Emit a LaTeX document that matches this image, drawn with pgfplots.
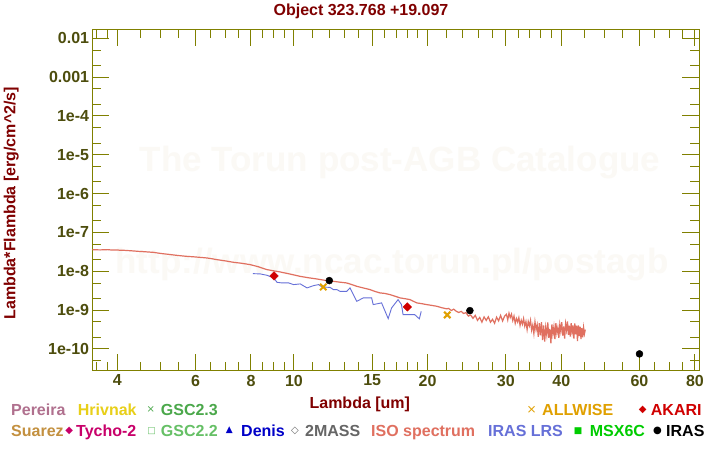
\documentclass[border=0pt]{standalone}
\usepackage{fontspec}
\setmainfont{Liberation Sans}
\newfontfamily\symfont{DejaVu Sans}
\usepackage{pgfplots}
\pgfplotsset{compat=1.18}
\definecolor{titlered}{HTML}{800000}
\definecolor{axisol}{HTML}{808000}
\definecolor{ticklab}{HTML}{4D4D0D}
\definecolor{wm}{RGB}{251,249,245}
\definecolor{pereira}{HTML}{B0708E}
\definecolor{hrivnak}{HTML}{E8CF18}
\definecolor{gscthree}{HTML}{4BA84B}
\definecolor{suarez}{HTML}{C3903F}
\definecolor{tycho}{HTML}{C8006A}
\definecolor{gsctwo}{HTML}{66C066}
\definecolor{denis}{HTML}{0000C8}
\definecolor{twomass}{HTML}{666666}
\definecolor{iso}{HTML}{E07060}
\definecolor{iraslrs}{HTML}{6670D8}
\definecolor{msx}{HTML}{00CC00}
\definecolor{allwise}{HTML}{E0A000}
\definecolor{akari}{HTML}{D00000}
\newcommand{\ft}{\fontsize{16}{19}\selectfont\bfseries}
\tikzset{sym/.style={inner sep=0, font=\symfont\fontsize{#1}{#1}\selectfont}}
\begin{document}
\begin{tikzpicture}
\path[use as bounding box] (0,0) rectangle (720pt,450pt);
\fill[white] (0,0) rectangle (720pt,450pt);
% watermark
\node[text=wm, font=\fontsize{35}{40}\selectfont\bfseries, inner sep=0] at (400pt,287pt) {The Torun post-AGB Catalogue};
\node[text=wm, font=\fontsize{35}{40}\selectfont\bfseries, inner sep=0] at (392pt,185pt) {http://www.ncac.torun.pl/postagb};
\begin{axis}[
  at={(92.3pt,79.3pt)}, anchor=south west,
  scale only axis, width=606.7pt, height=341.4pt,
  xmode=log, ymode=log,
  xmin=3.514, xmax=81.7, ymin=2.76e-11, ymax=1.706e-2,
  xtick={4,6,8,10,15,20,30,40,60,80},
  xticklabels={4,6,8,10,15,20,30,40,60,80},
  minor xtick={3.6,3.8,4.5,5,5.5,6.5,7,7.5,8.5,9,9.5,11,12,13,14,16,17,18,19,22,24,26,28,32,34,36,38,45,50,55,65,70,75},
  ytick={1e-10,1e-9,1e-8,1e-7,1e-6,1e-5,1e-4,1e-3,1e-2},
  yticklabels={1e-10,1e-9,1e-8,1e-7,1e-6,1e-5,1e-4,0.001,0.01},
  minor ytick={5e-11,2e-10,5e-10,2e-9,5e-9,2e-8,5e-8,2e-7,5e-7,2e-6,5e-6,2e-5,5e-5,2e-4,5e-4,2e-3,5e-3},
  tick align=inside,
  major tick length=17pt, minor tick length=9pt,
  tick style={axisol, line width=1pt},
  axis line style={draw=axisol, line width=1pt},
  ticklabel style={font=\ft, text=ticklab},
  yticklabel style={inner sep=0pt, xshift=-3pt},
  xticklabel style={inner sep=0pt, yshift=-4pt},
]
% ISO spectrum
\addplot[iso, line width=1.2pt, no markers] coordinates {
(3.51,3.62e-8) (3.60,3.58e-8) (3.66,3.56e-8) (3.80,3.62e-8) (3.90,3.52e-8) (4.00,3.55e-8)
(4.06,3.48e-8) (4.10,3.50e-8) (4.30,3.38e-8) (4.46,3.27e-8) (4.60,3.20e-8) (4.82,3.08e-8)
(5.04,2.86e-8) (5.20,2.75e-8) (5.44,2.58e-8) (5.73,2.43e-8) (5.95,2.36e-8) (6.14,2.29e-8)
(6.36,2.21e-8) (6.50,2.13e-8) (6.70,2.00e-8) (7.00,1.86e-8) (7.30,1.71e-8) (7.60,1.62e-8)
(7.96,1.49e-8) (8.30,1.32e-8) (8.68,1.11e-8) (9.00,1.03e-8) (9.30,9.66e-9) (9.80,8.50e-9)
(10.32,7.43e-9) (10.80,6.80e-9) (11.25,6.37e-9) (11.70,5.90e-9) (12.26,5.53e-9) (12.70,5.25e-9)
(13.14,5.02e-9) (13.50,4.55e-9) (13.85,4.11e-9) (14.30,3.75e-9) (14.84,3.38e-9) (15.20,3.05e-9)
(15.62,2.78e-9) (16.00,2.70e-9) (16.46,2.51e-9) (16.90,2.28e-9) (17.33,2.07e-9) (17.80,1.97e-9)
(18.25,1.87e-9) (18.60,1.68e-9) (18.90,1.54e-9) (19.40,1.47e-9) (19.90,1.39e-9) (20.40,1.33e-9)
(20.97,1.26e-9) (21.50,1.16e-9) (22.08,1.08e-9)
(22.3,1.11e-9) (22.6,9.8e-10) (22.9,1.06e-9) (23.2,9.35e-10) (23.5,8.7e-10) (23.8,9.3e-10)
(24.1,8.2e-10) (24.4,8.65e-10) (24.7,7.05e-10) (25.0,7.5e-10) (25.3,6.15e-10) (25.6,7.35e-10)
(25.9,5.45e-10) (26.2,6.5e-10) (26.5,4.9e-10) (26.8,6.7e-10) (27.1,5.45e-10) (27.4,6.75e-10)
(27.7,4.9e-10) (28.0,5.8e-10) (28.3,4.6e-10) (28.6,6.6e-10) (28.9,5.3e-10) (29.2,7.35e-10)
(29.5,5.25e-10) (29.8,6.95e-10)
(30.1,7.8e-10) (30.3,5.6e-10) (30.5,8.35e-10) (30.7,6.45e-10) (30.9,7.9e-10) (31.1,5.4e-10)
(31.3,7.05e-10) (31.5,4.6e-10) (31.7,6.1e-10) (31.9,4.95e-10) (32.1,6.4e-10) (32.3,4.05e-10)
(32.5,5.5e-10) (32.7,4.35e-10) (32.9,6.05e-10) (33.1,3.9e-10) (33.3,5.1e-10) (33.5,3.15e-10)
(33.7,5.1e-10) (33.9,3.95e-10) (34.1,5.5e-10) (34.3,3.05e-10) (34.5,4.15e-10) (34.7,2.5e-10)
(34.9,5.05e-10) (35.1,3.1e-10) (35.3,4.2e-10) (35.5,2.05e-10) (35.7,4.65e-10) (35.9,2.25e-10)
(36.1,4.9e-10) (36.3,1.7e-10) (36.5,4.05e-10) (36.7,1.55e-10) (36.9,3.65e-10) (37.1,2.3e-10)
(37.3,4.85e-10) (37.5,1.95e-10) (37.7,3.3e-10) (37.9,1.4e-10) (38.1,4.3e-10) (38.3,2.4e-10)
(38.5,3.75e-10) (38.7,1.8e-10) (38.9,4.6e-10) (39.1,2.6e-10) (39.3,3.55e-10) (39.5,1.95e-10)
(39.7,4.25e-10) (39.9,2.85e-10) (40.1,4.9e-10) (40.3,2.2e-10) (40.5,3.8e-10) (40.7,1.85e-10)
(40.9,4.45e-10) (41.1,3.05e-10) (41.3,5.15e-10) (41.5,2.3e-10) (41.7,4.0e-10) (41.9,2.1e-10)
(42.1,4.65e-10) (42.3,2.7e-10) (42.5,4.05e-10) (42.7,1.85e-10) (42.9,4.55e-10) (43.1,2.4e-10)
(43.3,4.0e-10) (43.5,1.6e-10) (43.7,4.05e-10) (43.9,2.15e-10) (44.1,3.75e-10) (44.3,1.8e-10)
(44.5,3.45e-10) (44.7,2.0e-10) (44.9,3.6e-10) (45.1,2.45e-10) (45.3,3.15e-10)
};
% IRAS LRS
\addplot[iraslrs, line width=0.9pt, no markers] coordinates {
(8.08,8.72e-9) (8.40,8.57e-9) (8.70,7.89e-9) (9.00,6.76e-9) (9.16,5.21e-9) (9.40,5.02e-9)
(9.73,5.02e-9) (9.98,4.55e-9) (10.33,4.74e-9) (10.70,3.74e-9) (11.07,4.28e-9) (11.36,4.55e-9)
(11.56,3.96e-9) (12.06,3.85e-9) (12.27,3.38e-9) (12.49,3.38e-9) (12.70,3.05e-9) (13.15,3.05e-9)
(13.37,3.74e-9) (13.85,1.69e-9) (14.33,2.07e-9) (14.96,2.07e-9) (15.08,1.39e-9) (15.75,1.54e-9)
(16.30,6.07e-10) (16.59,1.14e-9) (17.16,1.87e-9) (17.46,1.39e-9) (17.61,7.69e-10) (18.23,7.69e-10)
(18.70,7.69e-10) (19.16,5.96e-10) (19.35,9.33e-10)
};
% AKARI
\addplot[only marks, mark=square*, mark size=3pt, mark options={rotate=45, fill=akari, draw=akari}] coordinates {(9.02,7.62e-9) (18.0,1.21e-9)};
% ALLWISE
\addplot[only marks, mark=x, mark size=4.5pt, mark options={draw=allwise, line width=2pt}] coordinates {(11.64,3.96e-9) (22.14,7.55e-10)};
% IRAS
\addplot[only marks, mark=*, mark size=3.5pt, mark options={fill=black, draw=black}] coordinates {(12.01,5.77e-9) (24.9,9.73e-10) (60,7.48e-11)};
\end{axis}
% title and axis labels
\node[anchor=base, inner sep=0, text=titlered, font=\ft] at (361pt,434.5pt) {Object 323.768 +19.097};
\node[anchor=base, inner sep=0, text=titlered, font=\ft] at (359.8pt,41.5pt) {Lambda [um]};
\node[anchor=base, rotate=90, inner sep=0, text=titlered, font=\ft] at (15.5pt,246.7pt) {Lambda*Flambda [erg/cm\^{}2/s]};
% legend row 1
\node[anchor=base west, inner sep=0, text=pereira, font=\ft] at (11pt,34.3pt) {Pereira};
\node[anchor=base west, inner sep=0, text=hrivnak, font=\ft] at (77.7pt,34.3pt) {Hrivnak};
\node[sym=10, text=gscthree] at (150.7pt,40pt) {×};
\node[anchor=base west, inner sep=0, text=gscthree, font=\ft] at (160.7pt,34.3pt) {GSC2.3};
\node[sym=12, text=allwise] at (531.6pt,40pt) {×};
\node[anchor=base west, inner sep=0, text=allwise, font=\ft] at (542pt,34.3pt) {ALLWISE};
\node[sym=10, text=akari] at (642.8pt,40pt) {◆};
\node[anchor=base west, inner sep=0, text=akari, font=\ft] at (650.7pt,34.3pt) {AKARI};
% legend row 2
\node[anchor=base west, inner sep=0, text=suarez, font=\ft] at (11pt,13.3pt) {Suarez};
\node[sym=10, text=tycho] at (69.3pt,19.3pt) {◆};
\node[anchor=base west, inner sep=0, text=tycho, font=\ft] at (76pt,13.3pt) {Tycho-2};
\node[sym=9, text=gsctwo] at (151.7pt,19.3pt) {□};
\node[anchor=base west, inner sep=0, text=gsctwo, font=\ft] at (160.7pt,13.3pt) {GSC2.2};
\node[sym=9, text=denis] at (229.3pt,19.8pt) {▲};
\node[anchor=base west, inner sep=0, text=denis, font=\ft] at (241pt,13.3pt) {Denis};
\node[sym=10, text=twomass] at (295pt,19.3pt) {◇};
\node[anchor=base west, inner sep=0, text=twomass, font=\ft] at (305pt,13.3pt) {2MASS};
\node[anchor=base west, inner sep=0, text=iso, font=\ft] at (371pt,13.3pt) {ISO spectrum};
\node[anchor=base west, inner sep=0, text=iraslrs, font=\ft] at (488pt,13.3pt) {IRAS LRS};
\node[sym=9, text=msx] at (578pt,19.3pt) {■};
\node[anchor=base west, inner sep=0, text=msx, font=\ft] at (589.7pt,13.3pt) {MSX6C};
\node[sym=10, text=black] at (657.6pt,19.3pt) {●};
\node[anchor=base west, inner sep=0, text=black, font=\ft] at (666pt,13.3pt) {IRAS};
\end{tikzpicture}
\end{document}
